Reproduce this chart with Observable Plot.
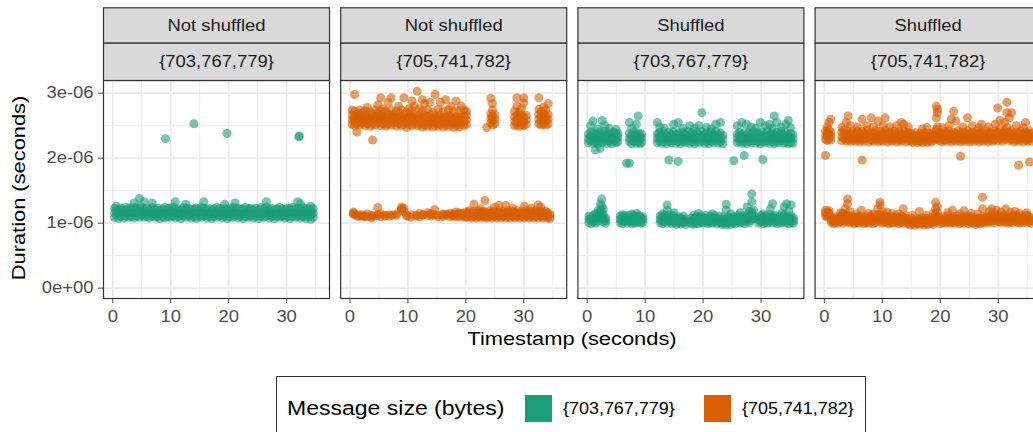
<!DOCTYPE html>
<html><head><meta charset="utf-8">
<script src="https://cdn.jsdelivr.net/npm/d3@7"></script>
<script src="https://cdn.jsdelivr.net/npm/@observablehq/plot@0.6"></script>
<style>
html,body{margin:0;padding:0;background:#fff;overflow:hidden;}
#wrap{position:relative;width:1033px;height:432px;overflow:hidden;background:#fff;}
#chart svg{display:block;max-width:none !important;}
#legend{position:absolute;left:276px;top:376px;width:590px;height:70px;border:1px solid #333;box-sizing:border-box;font-family:"Liberation Sans",Arial,sans-serif;background:#fff;}
.lg{position:absolute;white-space:nowrap;transform-origin:left center;line-height:1;}
.key{position:absolute;width:27px;height:27px;}
</style></head><body>
<div id="wrap"><div id="chart"></div><div id="legend"></div></div>
<script>
// ---- facets / labels ----
const panelKeys = ["ns-a", "ns-b", "s-a", "s-b"];
const shuffleLabels = ["Not shuffled", "Not shuffled", "Shuffled", "Shuffled"];
const sizeLabels = ["{703,767,779}", "{705,741,782}", "{703,767,779}", "{705,741,782}"];
const sizeLevels = ["{703,767,779}", "{705,741,782}"];
const sizeColors = ["#1B9E77", "#D95F02"];
const legendTitle = "Message size (bytes)";
const xTitle = "Timestamp (seconds)";
const yTitle = "Duration (seconds)";
const xMajorTicks = [0, 10, 20, 30];
const xMinorTicks = [5, 15, 25, 35];
const yMajorTicks = [0, 1e-6, 2e-6, 3e-6];
const yTickLabels = ["0e+00", "1e-06", "2e-06", "3e-06"];
const yMinorTicks = [0.5e-6, 1.5e-6, 2.5e-6];

// ---- data: rows are [timestamp s, duration µs, duration µs, ...] ----
const notShuffledSmall = [[0.3,1.09,1.16,1.23],[0.6,1.12,1.19,1.26],[1.0,1.07,1.14,1.21],[1.4,1.10,1.17,1.23],[1.9,1.08,1.15,1.21],[2.3,1.11,1.18,1.24],[2.8,1.09,1.15,1.22],[3.2,1.10,1.17,1.24],[3.7,1.08,1.15,1.22,1.31],[4.1,1.11,1.18,1.25],[4.6,1.09,1.16,1.23,1.38],[5.0,1.12,1.18,1.25],[5.4,1.09,1.15,1.22,1.33],[5.9,1.10,1.17,1.23],[6.3,1.08,1.14,1.21],[6.8,1.11,1.18,1.24,1.31],[7.2,1.09,1.15,1.22],[7.7,1.10,1.17,1.23],[8.1,1.07,1.14,1.20],[8.6,1.10,1.16,1.22],[9.0,1.08,1.16,1.24],[9.5,1.10,1.16,1.22],[9.9,1.09,1.16,1.23],[10.4,1.11,1.18,1.25],[10.8,1.08,1.14,1.21,1.33],[11.3,1.10,1.16,1.22],[11.7,1.07,1.13,1.20],[12.2,1.11,1.17,1.24],[12.6,1.09,1.15,1.22,1.29],[13.1,1.11,1.17,1.23],[13.5,1.08,1.14,1.21],[14.0,1.10,1.16,1.22],[14.4,1.07,1.15,1.23],[14.9,1.10,1.16,1.22],[15.3,1.09,1.16,1.24],[15.7,1.11,1.17,1.23,1.33],[16.2,1.08,1.14,1.21],[16.6,1.10,1.16,1.23],[17.1,1.07,1.13,1.20],[17.5,1.10,1.16,1.22],[18.0,1.09,1.16,1.24],[18.4,1.11,1.17,1.22],[18.9,1.08,1.14,1.21],[19.3,1.10,1.16,1.23,1.29],[19.8,1.07,1.14,1.21],[20.2,1.10,1.16,1.22],[20.7,1.09,1.16,1.24],[21.1,1.11,1.17,1.22,1.31],[21.6,1.08,1.15,1.23],[22.0,1.10,1.15,1.21],[22.5,1.07,1.14,1.22],[22.9,1.10,1.17,1.24],[23.4,1.09,1.15,1.22],[23.8,1.11,1.17,1.23],[24.3,1.08,1.14,1.21],[24.7,1.10,1.16,1.23],[25.2,1.07,1.14,1.21],[25.6,1.10,1.17,1.24],[26.1,1.09,1.15,1.22],[26.5,1.11,1.18,1.25,1.33],[27.0,1.08,1.14,1.21],[27.4,1.10,1.16,1.23],[27.9,1.07,1.13,1.20],[28.3,1.10,1.16,1.22],[28.8,1.09,1.16,1.24],[29.2,1.11,1.17,1.22],[29.7,1.08,1.14,1.21],[30.1,1.10,1.16,1.23],[30.6,1.07,1.15,1.22],[31.0,1.10,1.17,1.24],[31.5,1.09,1.15,1.22],[31.9,1.11,1.17,1.23,1.33],[32.4,1.08,1.15,1.22,1.30],[32.8,1.10,1.17,1.24],[33.3,1.07,1.14,1.21],[33.7,1.10,1.16,1.23],[34.2,1.06,1.13,1.20,1.26],[34.6,1.09,1.15,1.22]];
const notShuffledSmallOutliers = [[9.1,2.30],[14.0,2.53],[19.7,2.38],[32.1,2.33],[32.2,2.34]];

const notShuffledLargeUpper = [[0.4,2.52,2.59,2.66,2.74],[0.8,2.50,2.57,2.64,2.72,2.98],[1.2,2.53,2.61,2.68,2.40],[1.7,2.51,2.58,2.65,2.74],[2.1,2.54,2.62,2.70],[2.6,2.50,2.57,2.64,2.73],[3.0,2.53,2.60,2.67,2.78],[3.5,2.49,2.56,2.63,2.71],[3.9,2.52,2.60,2.67,2.28],[4.4,2.51,2.58,2.65,2.74],[4.8,2.54,2.62,2.69,2.82],[5.3,2.50,2.57,2.64,2.72,2.93],[5.7,2.53,2.60,2.67,2.76],[6.2,2.49,2.56,2.63,2.73],[6.6,2.52,2.60,2.67,2.86],[7.1,2.51,2.58,2.65,2.74,2.93],[7.5,2.54,2.61,2.68],[8.0,2.49,2.56,2.63,2.72],[8.4,2.53,2.60,2.67,2.80],[8.9,2.50,2.57,2.64,2.74],[9.3,2.52,2.60,2.68,2.93],[9.8,2.47,2.55,2.62,2.71],[10.2,2.52,2.59,2.66,2.76],[10.7,2.50,2.57,2.64,2.73,2.88],[11.1,2.53,2.60,2.67,2.80],[11.6,2.50,2.57,2.64,3.03],[12.0,2.52,2.59,2.66,2.76],[12.5,2.48,2.55,2.63,2.72,2.90],[12.9,2.51,2.58,2.65,2.84],[13.4,2.49,2.56,2.64,2.74],[13.8,2.53,2.60,2.67,2.86],[14.3,2.48,2.55,2.62,2.71],[14.7,2.51,2.58,2.65,2.98],[15.2,2.49,2.56,2.64,2.75],[15.6,2.52,2.59,2.66,2.86],[16.1,2.48,2.55,2.62,2.73],[16.5,2.51,2.58,2.64,2.90],[17.0,2.49,2.56,2.63,2.74],[17.4,2.52,2.59,2.66,2.80],[17.9,2.47,2.54,2.61,2.72],[18.3,2.51,2.58,2.64,2.88],[18.8,2.48,2.55,2.62,2.73],[19.2,2.52,2.59,2.66,2.80],[19.7,2.50,2.57,2.64,2.74],[20.1,2.52,2.59,2.66,2.72],
  [23.6,2.47],[24.3,2.54,2.61,2.68,2.92],[24.6,2.51,2.58,2.65,2.74,2.84],[25.0,2.53,2.60,2.67],
  [28.4,2.50,2.57,2.64,2.72],[28.8,2.52,2.59,2.66,2.93,2.80],[29.2,2.49,2.56,2.63,2.70],[29.6,2.51,2.58,2.65,2.76],[30.0,2.50,2.57,2.64,2.85,2.93],[30.4,2.52,2.59,2.66],
  [32.6,2.53,2.60,2.67,2.75,2.93],[33.0,2.51,2.58,2.65,2.72],[33.4,2.53,2.61,2.68,2.78],[33.8,2.51,2.58,2.65,2.74],[34.2,2.53,2.60,2.67,2.84]];
const notShuffledLargeLower = [[0.6,1.15,1.17,1.14],[1.0,1.13,1.12],[1.5,1.12,1.10],[2.0,1.13,1.11],[2.5,1.11,1.10],[3.0,1.14,1.10],[3.7,1.08,1.12,1.10],[4.2,1.11],[4.8,1.13,1.24,1.12],[5.3,1.14,1.10],[6.0,1.12,1.11],[6.8,1.13,1.11],[7.3,1.12],[8.0,1.14,1.12],[8.9,1.20,1.25,1.22],[9.3,1.18,1.23],[9.8,1.11,1.12],[10.5,1.09,1.13],[11.5,1.12,1.11],[12.0,1.15,1.10],[12.6,1.13,1.12],[13.4,1.12,1.16],[14.0,1.11,1.15,1.13],[14.6,1.13,1.21],[15.2,1.12,1.10],[16.0,1.14,1.10,1.12],[16.7,1.12,1.14],[17.3,1.15,1.10],[17.8,1.11,1.14,1.12],[18.3,1.13,1.17,1.10],[18.8,1.10,1.14,1.16],[19.3,1.15,1.11,1.13],[19.8,1.12,1.16,1.09],
  [20.2,1.09,1.13,1.17],[20.6,1.10,1.14,1.19],[21.0,1.08,1.12,1.16],[21.4,1.10,1.14,1.18,1.29],[21.8,1.08,1.12,1.16],[22.2,1.10,1.15,1.19],[22.6,1.08,1.12,1.16,1.22],[23.0,1.10,1.14,1.18],[23.3,1.09,1.13,1.17,1.35],[23.7,1.08,1.12,1.16],[24.1,1.10,1.15,1.19],[24.5,1.08,1.12,1.16],[24.9,1.10,1.14,1.18,1.24],[25.3,1.08,1.12,1.16],[25.7,1.10,1.15,1.19,1.27],[26.1,1.08,1.12,1.16],[26.5,1.10,1.14,1.18],[26.9,1.08,1.12,1.16,1.27],[27.3,1.10,1.15,1.19],[27.7,1.08,1.12,1.16],[28.1,1.10,1.14,1.18,1.23],[28.5,1.08,1.12,1.16],[28.9,1.10,1.15,1.19],[29.3,1.08,1.12,1.16],[29.7,1.10,1.14,1.18],[30.1,1.08,1.12,1.16,1.26],[30.5,1.10,1.15,1.19],[30.9,1.08,1.12,1.16],[31.3,1.10,1.14,1.18,1.23],[31.7,1.08,1.12,1.16],[32.1,1.10,1.15,1.19],[32.5,1.08,1.12,1.16,1.28],[32.9,1.10,1.14,1.18,1.25],[33.3,1.08,1.12,1.16],[33.7,1.10,1.15,1.19],[34.1,1.08,1.12,1.16],[34.5,1.07,1.11,1.14]];

const shuffledSmallUpper = [[0.2,2.24,2.30,2.37],[0.6,2.26,2.33,2.40,2.50],[1.0,2.23,2.30,2.36,2.57],[1.4,2.25,2.32,2.39,2.13],[1.8,2.22,2.29,2.35,2.45],[2.2,2.26,2.33,2.40,2.15],[2.6,2.24,2.31,2.37,2.58],[3.0,2.27,2.34,2.41,2.50],[3.4,2.23,2.30,2.36],[3.8,2.25,2.32,2.39,2.46],[4.2,2.22,2.29,2.35],[4.6,2.26,2.33,2.40],[5.0,2.24,2.31,2.37,2.44],[5.3,2.25,2.32,2.38],
  [6.8,1.92],[7.3,1.92],
  [7.3,2.25,2.31,2.38,2.55],[7.7,2.22,2.29,2.35,2.46],[8.1,2.26,2.33,2.40],[8.5,2.23,2.30,2.36,2.52],[8.8,2.25,2.32,2.39,2.65],[9.1,2.22,2.29,2.35],[9.4,2.24,2.31,2.37],
  [12.1,2.24,2.31,2.37,2.55],[12.5,2.26,2.33,2.40,2.48],[12.9,2.23,2.30,2.36],[13.3,2.25,2.32,2.39,2.46],[13.7,2.22,2.29,2.35],[14.1,2.26,2.33,2.40,1.97],[14.5,2.24,2.31,2.37],[14.9,2.27,2.34,2.41,2.52],[15.3,2.23,2.30,2.36],[15.7,2.25,2.32,2.39,1.95,2.55],[16.1,2.22,2.29,2.35],[16.5,2.26,2.33,2.40,2.46],[16.9,2.24,2.31,2.37],[17.3,2.27,2.34,2.41],[17.7,2.23,2.30,2.36,2.50],[18.1,2.25,2.32,2.39],[18.5,2.22,2.29,2.35,2.46],[18.9,2.26,2.33,2.40],[19.3,2.24,2.31,2.37,2.50],[19.8,2.27,2.34,2.41,2.70],[20.2,2.23,2.30,2.36],[20.6,2.25,2.32,2.39,2.47],[21.0,2.22,2.29,2.35],[21.4,2.26,2.33,2.40,2.45],[21.8,2.24,2.31,2.37],[22.2,2.27,2.34,2.41,2.52],[22.6,2.23,2.30,2.36],[23.0,2.25,2.32,2.39,2.55],[23.4,2.22,2.29,2.35],
  [25.3,1.96],[25.9,2.24,2.31,2.37,2.50],[26.3,2.26,2.33,2.40],[26.7,2.23,2.30,2.36,2.55],[27.1,2.25,2.32,2.39,2.04],[27.5,2.22,2.29,2.35,2.52],[27.9,2.26,2.33,2.40],[28.3,2.24,2.31,2.37,2.48],[28.7,2.27,2.34,2.41],[29.1,2.23,2.30,2.36,2.46],[29.5,2.25,2.32,2.39],[29.9,2.22,2.29,2.35,2.55],[30.3,2.26,2.33,2.40,1.98],[30.7,2.24,2.31,2.37,2.50],[31.1,2.27,2.34,2.41],[31.5,2.23,2.30,2.36,2.52],[31.9,2.25,2.32,2.39,2.46],[32.3,2.22,2.29,2.35,2.65],[32.7,2.26,2.33,2.40,2.55],[33.1,2.24,2.31,2.37],[33.5,2.27,2.34,2.41,2.48],[33.9,2.23,2.30,2.36],[34.3,2.25,2.32,2.39,2.52],[34.7,2.22,2.29,2.35,2.58],[35.1,2.24,2.31,2.38,2.47],[35.5,2.23,2.30,2.36]];
const shuffledSmallLower = [[0.3,1.01,1.06,1.11],[0.7,0.99,1.04,1.09],[1.1,1.02,1.07,1.12],[1.5,1.00,1.05,1.10,1.15],[1.9,1.03,1.08,1.13,1.20],[2.3,1.06,1.12,1.19,1.30],[2.5,1.10,1.18,1.26,1.37],[2.8,1.02,1.07,1.12,1.22],[3.2,1.00,1.04,1.08],
  [5.7,1.01,1.06,1.11],[6.1,0.99,1.04,1.09,1.13],[6.5,1.02,1.07,1.12],[6.9,1.00,1.04,1.08],[7.3,1.03,1.08,1.12],[7.7,0.99,1.04,1.09,1.14],[8.1,1.01,1.06,1.11],[8.5,1.00,1.05,1.10,1.15],[8.9,1.02,1.07,1.12],[9.3,1.00,1.04,1.08],[9.6,1.01,1.06,1.10],
  [12.6,1.01,1.06,1.11],[13.0,0.99,1.04,1.09,1.14],[13.4,1.02,1.07,1.12],[13.8,1.00,1.05,1.10,1.20,1.28],[14.2,1.03,1.08,1.13],[14.6,0.99,1.04,1.08],[15.0,1.01,1.06,1.11,1.16],[15.4,0.98,1.03,1.07],[15.8,1.00,1.05,1.10],[16.2,0.99,1.03,1.07],[16.6,1.01,1.06,1.11],[17.0,0.98,1.02,1.06],[18.0,0.99,1.04,1.08],[18.4,0.98,1.03,1.07,1.12],[18.8,1.00,1.05,1.10],[19.2,0.99,1.04,1.09,1.15],[19.6,1.01,1.06,1.11],[20.0,1.00,1.05,1.09],[20.4,1.02,1.07,1.12],[20.8,0.99,1.03,1.07],[21.2,1.01,1.06,1.11],[21.6,1.00,1.04,1.08,1.14],[22.0,1.02,1.07,1.12],[22.4,0.99,1.03,1.07],[22.8,1.01,1.06,1.11],[23.2,0.98,1.02,1.06],[23.6,1.00,1.05,1.10],[24.0,0.97,1.02,1.07,1.20,1.29],[24.4,1.00,1.04,1.09],[24.8,0.98,1.03,1.07,1.14],[25.2,1.00,1.05,1.10],[25.6,0.99,1.03,1.08],[26.0,1.02,1.07,1.12],[26.4,1.00,1.05,1.09,1.16],[26.8,1.01,1.06,1.11],[27.2,0.99,1.04,1.08],[27.6,1.03,1.08,1.13,1.25],[28.0,1.01,1.06,1.11,1.18],[28.4,1.05,1.11,1.17,1.33,1.45],[28.7,1.07,1.13,1.20],[29.6,1.00,1.05,1.09],[30.0,1.02,1.07,1.12],[30.4,0.99,1.04,1.08,1.14],[30.8,1.01,1.06,1.11],[31.2,1.00,1.04,1.08],[31.6,1.03,1.08,1.13,1.22],[32.0,1.01,1.06,1.10,1.30],[32.4,1.02,1.07,1.12],[32.8,0.99,1.03,1.07],[33.2,1.01,1.06,1.11],[33.6,1.00,1.04,1.08,1.15],[34.0,1.03,1.08,1.13,1.25],[34.4,1.01,1.06,1.10,1.30],[34.8,0.99,1.04,1.08,1.18],[35.2,1.01,1.06,1.11,1.28],[35.6,1.00,1.04,1.08]];

const shuffledLargeUpper = [[0.2,2.29,2.35,2.42,2.04],[0.5,2.27,2.33,2.39,2.48],[0.8,2.30,2.37,2.43,2.55],[1.1,2.28,2.34,2.40,2.60],
  [3.0,2.27,2.33,2.40,2.47],[3.4,2.30,2.37,2.43],[3.8,2.26,2.32,2.38,2.55],[4.1,2.29,2.36,2.42,2.65],[4.5,2.26,2.32,2.37,2.50],[4.9,2.28,2.35,2.41],[5.3,2.26,2.32,2.38],[5.7,2.29,2.36,2.42,2.48],[6.1,2.25,2.31,2.37],[6.5,2.28,2.35,2.41,2.60,1.97],[6.9,2.26,2.32,2.38],[7.3,2.30,2.37,2.43,2.50],[7.7,2.25,2.31,2.37],[8.1,2.28,2.34,2.40,2.62],[8.5,2.26,2.32,2.38,2.48],[8.9,2.29,2.36,2.42],[9.3,2.25,2.31,2.37,2.57],[9.7,2.28,2.35,2.41],[10.1,2.26,2.32,2.38,2.50],[10.5,2.30,2.37,2.43,2.62],[10.9,2.25,2.31,2.37],[11.3,2.28,2.34,2.40,2.48],[11.7,2.26,2.32,2.38],[12.1,2.29,2.36,2.42],[12.5,2.25,2.31,2.37,2.50],[12.9,2.28,2.35,2.41],[13.3,2.26,2.32,2.38,2.55],[13.7,2.29,2.36,2.42,2.52],[14.1,2.25,2.31,2.37],[14.5,2.28,2.34,2.40,2.48],[14.9,2.26,2.32,2.38],[15.3,2.24,2.30,2.36],[15.7,2.27,2.33,2.39],[16.1,2.24,2.30,2.35],[16.5,2.26,2.32,2.38],[16.9,2.24,2.30,2.36,2.45],[17.3,2.27,2.33,2.39],[17.7,2.24,2.30,2.35,2.47],[18.1,2.26,2.32,2.38],[18.5,2.25,2.31,2.37],[18.9,2.28,2.34,2.40],[19.3,2.29,2.36,2.44,2.62,2.80],[19.5,2.31,2.39,2.48,2.75,2.70],[19.9,2.27,2.33,2.39],[20.3,2.25,2.31,2.37,2.47],[20.7,2.28,2.35,2.41],[21.1,2.26,2.32,2.38],[21.5,2.29,2.36,2.42,2.50],[21.9,2.25,2.31,2.37,2.60],[22.3,2.28,2.34,2.40,2.72],[22.7,2.26,2.32,2.38,2.57],[23.1,2.29,2.36,2.42],[23.5,2.25,2.31,2.37,2.03],[23.9,2.28,2.34,2.40,2.48],[24.3,2.26,2.32,2.38],[24.7,2.29,2.36,2.42,2.62],[25.1,2.25,2.31,2.37],[25.5,2.28,2.34,2.40,2.50],[25.9,2.26,2.32,2.38],[26.3,2.29,2.36,2.42],[26.7,2.25,2.31,2.37,2.47],[27.1,2.28,2.34,2.40,2.52],[27.5,2.26,2.32,2.38],[27.9,2.29,2.36,2.42],[28.3,2.25,2.31,2.37,2.48],[28.7,2.28,2.34,2.40],[29.1,2.26,2.32,2.38],[29.5,2.29,2.36,2.42,2.52],[29.9,2.27,2.34,2.40,2.77],[30.3,2.30,2.37,2.44,2.58],[30.7,2.26,2.32,2.38],[31.1,2.29,2.36,2.42,2.55],[31.5,2.31,2.39,2.47,2.86,2.70],[31.9,2.27,2.34,2.40,2.62],[32.3,2.29,2.36,2.42,2.70],[32.7,2.25,2.31,2.37],[33.1,2.28,2.34,2.40,2.50],[33.5,2.26,2.32,2.38,1.89],[33.9,2.29,2.36,2.42],[34.3,2.25,2.31,2.37,2.47],[34.7,2.28,2.34,2.40,2.55],[35.1,2.26,2.32,2.38],[35.4,2.29,2.36,2.42,1.94],[35.7,2.26,2.32,2.38]];
const shuffledLargeLower = [[0.2,1.11,1.16,1.20],[0.5,1.09,1.13,1.17],[0.8,1.12,1.16,1.19],[1.2,1.01,1.05,1.09],[1.6,0.99,1.03,1.07],[2.0,1.01,1.06,1.10],[2.4,1.00,1.04,1.08],[2.8,1.02,1.07,1.11,1.16],[3.2,1.00,1.05,1.09,1.15],[3.6,1.03,1.08,1.12,1.22],[4.0,1.02,1.07,1.12,1.30,1.37],[4.4,1.00,1.05,1.09,1.18],[4.8,1.02,1.07,1.11],[5.2,0.99,1.03,1.07],[5.6,1.01,1.06,1.10,1.14],[6.0,1.00,1.04,1.08],[6.4,1.02,1.07,1.11,1.20],[6.8,0.99,1.03,1.07],[7.2,1.01,1.06,1.10],[7.6,1.00,1.04,1.08,1.15],[8.0,1.02,1.07,1.11],[8.4,0.99,1.03,1.07,1.14],[8.8,1.01,1.06,1.10],[9.2,1.03,1.08,1.13,1.22],[9.6,1.03,1.08,1.13,1.28,1.32],[10.0,1.00,1.05,1.09,1.18],[10.4,1.02,1.07,1.11],[10.8,1.01,1.05,1.09,1.17],[11.2,0.99,1.03,1.07],[11.6,1.01,1.06,1.10,1.15],[12.0,1.00,1.04,1.08],[12.4,1.02,1.07,1.11],[12.8,0.99,1.03,1.07,1.14],[13.2,1.01,1.06,1.10],[13.6,1.00,1.05,1.09,1.22],[14.0,1.02,1.07,1.11],[14.4,0.99,1.03,1.07],[14.8,0.97,1.01,1.05],[15.2,0.99,1.03,1.07,1.12],[15.6,0.97,1.01,1.05],[16.0,0.99,1.03,1.07],[16.4,0.98,1.02,1.06,1.18],[16.8,1.00,1.04,1.08],[17.2,0.97,1.01,1.05],[17.6,0.99,1.03,1.07,1.12],[18.0,0.98,1.02,1.06],[18.4,1.00,1.04,1.08],[18.8,0.98,1.02,1.07,1.15],[19.2,1.02,1.08,1.14,1.22,1.32],[19.5,1.04,1.10,1.16,1.25],[20.0,0.99,1.03,1.07],[20.5,1.01,1.06,1.10],[20.9,1.00,1.04,1.08],[21.3,1.02,1.07,1.11,1.16],[21.7,1.00,1.04,1.08],[22.1,1.01,1.06,1.10,1.20],[22.5,1.00,1.04,1.08],[22.9,1.02,1.07,1.11],[23.3,0.99,1.03,1.07,1.14],[23.7,1.01,1.06,1.10],[24.1,1.00,1.04,1.08,1.19],[24.5,1.02,1.07,1.11],[24.9,0.99,1.03,1.07],[25.3,1.01,1.06,1.10,1.15],[25.7,1.00,1.04,1.08],[26.1,0.98,1.02,1.06],[26.5,1.00,1.04,1.08,1.14],[26.9,0.99,1.03,1.07],[27.3,1.01,1.06,1.10,1.22,1.40],[27.7,1.00,1.04,1.08],[28.1,1.02,1.07,1.11],[28.5,1.01,1.05,1.09,1.18],[28.9,1.03,1.08,1.13,1.22],[29.3,1.01,1.06,1.10],[29.7,1.04,1.09,1.13,1.20],[30.1,1.02,1.07,1.11],[30.5,1.01,1.05,1.09,1.17],[30.9,1.03,1.08,1.12],[31.3,1.01,1.06,1.10,1.22],[31.7,1.00,1.04,1.08],[32.1,1.02,1.07,1.11,1.17],[32.5,1.01,1.05,1.09],[32.9,1.03,1.08,1.12,1.18],[33.3,1.01,1.06,1.10],[33.7,1.00,1.04,1.08,1.15],[34.1,1.02,1.07,1.11],[34.5,1.01,1.05,1.09],[34.9,1.03,1.08,1.12,1.16],[35.3,1.01,1.06,1.10],[35.7,1.00,1.04,1.08]];

// ---- build tidy table ----
const points = [];
function addRows(rows, panel) {
  const size = sizeLabels[panelKeys.indexOf(panel)];
  for (const [t, ...ys] of rows) for (const y of ys) points.push({panel, size, t, d: y * 1e-6});
}
addRows(notShuffledSmall, "ns-a");
addRows(notShuffledSmallOutliers, "ns-a");
addRows(notShuffledLargeUpper, "ns-b");
addRows(notShuffledLargeLower, "ns-b");
addRows(shuffledSmallUpper, "s-a");
addRows(shuffledSmallLower, "s-a");
addRows(shuffledLargeUpper, "s-b");
addRows(shuffledLargeLower, "s-b");

const strips = panelKeys.map((k, i) => ({panel: k, shuffle: shuffleLabels[i], size: sizeLabels[i]}));
const yLabelMap = new Map(yMajorTicks.map((v, i) => [v, yTickLabels[i]]));

const FONT = "'Liberation Sans', Arial, sans-serif";
const gridColor = "#EBEBEB";

const chart = Plot.plot({
  width: 1045,
  height: 360,
  marginLeft: 103,
  marginRight: 4.4,
  marginTop: 80,
  marginBottom: 62,
  style: {fontFamily: FONT, fontSize: "16px", color: "#4D4D4D", background: "#fff"},
  fx: {domain: panelKeys, paddingInner: 0.0472, paddingOuter: 0, round: false, axis: null, label: null},
  x: {domain: [-1.6, 37.4], ticks: xMajorTicks, tickSize: 5, tickPadding: 7, label: null},
  y: {domain: [-0.16e-6, 3.195e-6], ticks: yMajorTicks, tickFormat: d => yLabelMap.get(d), tickSize: 5, tickPadding: 5, label: null},
  color: {domain: sizeLevels, range: sizeColors},
  marks: [
    Plot.gridX(xMinorTicks, {stroke: gridColor, strokeOpacity: 1, strokeWidth: 0.9}),
    Plot.gridY(yMinorTicks, {stroke: gridColor, strokeOpacity: 1, strokeWidth: 0.9}),
    Plot.gridX(xMajorTicks, {stroke: gridColor, strokeOpacity: 1, strokeWidth: 1.8}),
    Plot.gridY(yMajorTicks, {stroke: gridColor, strokeOpacity: 1, strokeWidth: 1.8}),
    Plot.dot(points, {x: "t", y: "d", fx: "panel", fill: "size", r: 4.5, fillOpacity: 0.6}),
    Plot.frame({stroke: "#333333", strokeWidth: 1.2}),
    Plot.frame({fill: "#D9D9D9", stroke: "#333333", strokeWidth: 1.2, insetTop: -72.7, insetBottom: 255.3}),
    Plot.frame({fill: "#D9D9D9", stroke: "#333333", strokeWidth: 1.2, insetTop: -37.3, insetBottom: 218}),
    Plot.text(strips, {fx: "panel", text: "shuffle", frameAnchor: "top", lineAnchor: "middle", dy: -54.5, fontSize: 16, fill: "#1A1A1A"}),
    Plot.text(strips, {fx: "panel", text: "size", frameAnchor: "top", lineAnchor: "middle", dy: -18.5, fontSize: 16, fill: "#1A1A1A"})
  ]
});
chart.style.maxWidth = "none";
chart.style.width = "1045px";
chart.style.height = "360px";
document.getElementById("chart").appendChild(chart);

// axis titles
const svg = d3.select(chart);
svg.selectAll('[aria-label="x-axis tick"], [aria-label="y-axis tick"]').attr("stroke", "#333333");
svg.append("text").attr("x", 572).attr("y", 345).attr("text-anchor", "middle")
  .attr("font-size", 19).attr("fill", "#000").attr("font-family", FONT).text(xTitle);
svg.append("text").attr("transform", "translate(25,188) rotate(-90)").attr("text-anchor", "middle")
  .attr("font-size", 19).attr("fill", "#000").attr("font-family", FONT).text(yTitle);

// widen glyphs horizontally to match the reference rendering
chart.querySelectorAll("text").forEach(t => {
  const L = t.getComputedTextLength();
  if (L > 0) { t.setAttribute("textLength", (L * 1.15).toFixed(2)); t.setAttribute("lengthAdjust", "spacingAndGlyphs"); }
});

// legend (HTML, below the SVG)
const legend = document.getElementById("legend");
function addEl(cls, text, left, top, size, color, sx) {
  const el = document.createElement("div");
  el.className = cls;
  el.style.left = left + "px"; el.style.top = top + "px";
  if (text != null) { el.textContent = text; el.style.fontSize = size + "px"; el.style.color = color; el.style.transform = "scaleX(" + sx + ")"; }
  else el.style.background = color;
  legend.appendChild(el);
  return el;
}
addEl("lg", legendTitle, 10, 22, 19.5, "#000", 1.18);
const keyLefts = [248, 427];
const labLefts = [286, 465];
sizeLevels.forEach((s, i) => {
  addEl("key", null, keyLefts[i], 18, 0, sizeColors[i]);
  addEl("lg", s, labLefts[i], 24, 15.6, "#000", 1.15);
});
</script></body></html>
